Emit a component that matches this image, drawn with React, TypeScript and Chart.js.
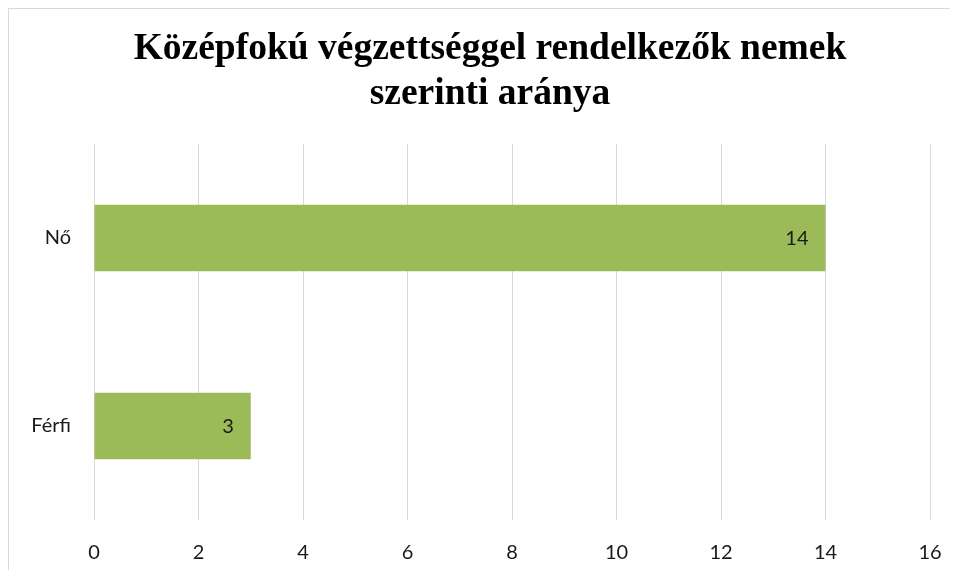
import React, { useEffect, useRef } from "react";
import { Chart, registerables } from "chart.js";

Chart.register(...registerables);

const titleLines = ["Középfokú végzettséggel rendelkezők nemek", "szerinti aránya"];
const categories = ["Nő", "Férfi"];
const values = [14, 3];
const xMin = 0;
const xMax = 16;
const xStep = 2;

const barLabelPlugin = {
  id: "barLabels",
  afterDatasetsDraw(chart: any) {
    const ctx = chart.ctx;
    const meta = chart.getDatasetMeta(0);
    ctx.save();
    ctx.font = "20px Lato";
    ctx.fillStyle = "#1a1a1a";
    ctx.textAlign = "right";
    ctx.textBaseline = "middle";
    meta.data.forEach((bar: any, i: number) => {
      ctx.fillText(String(values[i]), bar.x - 17, bar.y + 1);
    });
    ctx.restore();
  },
};

export default function App() {
  const ref = useRef<HTMLCanvasElement | null>(null);

  useEffect(() => {
    document.documentElement.style.overflow = "hidden";
    document.body.style.overflow = "hidden";
    if (!ref.current) return;
    const chart = new Chart(ref.current, {
      type: "bar",
      data: {
        labels: categories,
        datasets: [
          {
            data: values,
            backgroundColor: "#9bbb59",
            borderWidth: 0,
            categoryPercentage: 1,
            barPercentage: 0.355,
          },
        ],
      },
      options: {
        indexAxis: "y",
        animation: false,
        responsive: false,
        maintainAspectRatio: false,
        layout: { padding: 0 },
        plugins: {
          legend: { display: false },
          tooltip: { enabled: false },
          title: {
            display: true,
            text: titleLines,
            color: "#000",
            font: { family: "'Liberation Serif'", size: 37.5, weight: "bold", lineHeight: 1.2 },
            padding: { top: 18, bottom: 27 },
          },
        },
        scales: {
          x: {
            min: xMin,
            max: xMax,
            ticks: {
              stepSize: xStep,
              color: "#1a1a1a",
              font: { family: "Lato", size: 20 },
              padding: 21,
            },
            grid: { color: "#d9d9d9", lineWidth: 1, drawTicks: false },
            border: { display: false },
            afterFit(scale: any) {
              scale.height = 50;
              scale.paddingLeft = 0;
              scale.paddingRight = 41;
            },
          },
          y: {
            ticks: {
              color: "#1a1a1a",
              font: { family: "Lato", size: 20 },
              padding: 23,
            },
            grid: { display: false, drawTicks: false },
            border: { display: false },
            afterFit(scale: any) {
              scale.width = 85;
            },
          },
        },
      },
      plugins: [barLabelPlugin],
    });
    return () => chart.destroy();
  }, []);

  return (
    <div
      style={{
        width: 941,
        height: 561,
        overflow: "hidden",
        borderLeft: "1px solid #d9d9d9",
        borderTop: "1px solid #d9d9d9",
        background: "#fff",
      }}
    >
      <canvas ref={ref} width={962} height={561} style={{ display: "block" }} />
    </div>
  );
}
